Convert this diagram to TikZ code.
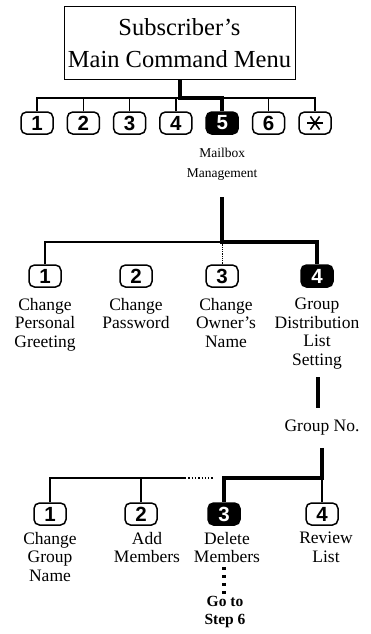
\documentclass[tikz,border=0pt]{standalone}
\usepackage{fontspec}
\setmainfont{Liberation Serif}
\newfontfamily\keyfont{Liberation Sans}
\usetikzlibrary{positioning}

\begin{document}
\begin{tikzpicture}[x=1pt, y=-1pt, node distance=10pt]
\tikzstyle{key}=[draw, line width=1.5pt, rounded corners=5.5pt, minimum width=32pt, minimum height=22pt, inner sep=0pt, font=\keyfont\bfseries\fontsize{20.5}{20.5}\selectfont]
\tikzstyle{sel}=[key, fill=black, text=white]
\tikzstyle{lbl}=[align=center, inner sep=0pt, font=\fontsize{17.5}{18.5}\selectfont]
\tikzstyle{bus}=[line width=1.3pt]
\tikzstyle{heavy}=[line width=4pt]
\useasboundingbox (0,0) rectangle (371,634);

% main menu and its keys
\node[draw, line width=1pt, minimum width=231pt, minimum height=72pt, inner sep=0pt, align=center, font=\fontsize{24.5}{32}\selectfont] (menu) at (179.5,43) {Subscriber's\\Main Command Menu};
\foreach \n/\s in {1/key,2/key,3/key,4/key,5/sel,6/key}
  \node[\s] (k\n) at ({37+46.3*(\n-1)},123) {\n};
\node[key] (k7) at (315,123) {};
\foreach \a in {0,55,125}
  \draw[line width=1.6pt] ([shift={(\a:8pt)}]k7.center) -- ([shift={(\a+180:8pt)}]k7.center);
\node[lbl, font=\fontsize{13.5}{20}\selectfont, below=13pt of k5] (mm) {Mailbox\\Management};

\coordinate (b1) at (0,98);
\draw[bus] (k1.north) |- (k7 |- b1) -- (k7.north);
\foreach \n in {2,3,4,6} \draw[bus] (k\n.north) -- (k\n |- b1);
\draw[heavy] (menu.south) |- (k5 |- b1) -- (k5.north);

% mailbox management
\node[key] (g1) at (45,276) {1};
\node[key] (g2) at (136,276) {2};
\node[key] (g3) at (222,276) {3};
\node[sel] (g4) at (317,276) {4};
\node[lbl, below=of g1] (gl1) {Change\\Personal\\Greeting};
\node[lbl, below=of g2] (gl2) {Change\\Password};
\node[lbl, below=of g3, xshift=4pt] (gl3) {Change\\Owner's\\Name};
\node[lbl, below=of g4] (gl4) {Group\\Distribution\\List\\Setting};

\coordinate (b2) at (0,242);
\coordinate (t2) at (222,197);
\draw[bus] (g1.north) |- (g3 |- b2);
\draw[line width=0.8pt, densely dotted] (g3.north) -- (g3 |- b2);
\draw[heavy] (t2) |- (g4 |- b2) -- (g4.north);

% group distribution list
\node[lbl] (grp) at (322,428) {Group No.};
\coordinate (t3) at (318,377);
\draw[heavy] (t3) -- (t3 |- 0,408);

\node[key] (d1) at (50,514) {1};
\node[key] (d2) at (141,514) {2};
\node[sel] (d3) at (224,514) {3};
\node[key] (d4) at (322,514) {4};
\node[lbl, below=6pt of d1] (dl1) {Change\\Group\\Name};
\node[lbl, below=6pt of d2, xshift=6pt] (dl2) {Add\\Members};
\node[lbl, below=6pt of d3, xshift=3pt] (dl3) {Delete\\Members};
\node[lbl, below=6pt of d4, xshift=4pt] (dl4) {Review\\List};
\node[align=center, inner sep=0pt, font=\bfseries\fontsize{15.5}{18}\selectfont] (goto) at (225,612) {Go to\\Step 6};

\coordinate (b3) at (0,478);
\coordinate (e1) at (185,478);
\coordinate (e2) at (213,478);
\draw[bus] (d1.north) |- (e1);
\draw[bus, dotted] (e1) -- (e2);
\draw[bus] (d2.north) -- (d2 |- b3);
\draw[bus] (d4.north) -- (d4 |- b3);
\draw[heavy, shorten <=12pt] (d4 |- grp.south) |- (d3 |- b3) -- (d3.north);
\draw[line width=3.5pt, dash pattern=on 3.5pt off 4.5pt] (dl3.south -| d3) ++(0,4) -- (d3 |- goto.north);
\end{tikzpicture}
\end{document}
